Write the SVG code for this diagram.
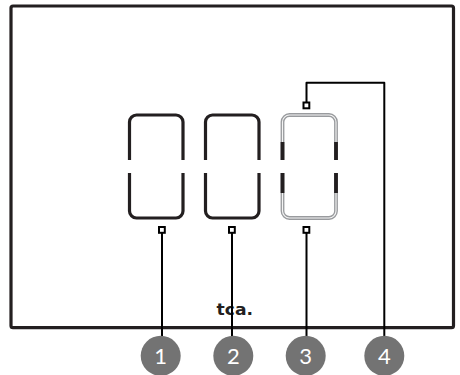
<svg xmlns="http://www.w3.org/2000/svg" width="460" height="375" viewBox="0 0 460 375">
<style>
.o{fill:none;stroke:#231f20;stroke-width:3.2;stroke-linecap:butt;stroke-linejoin:round}
.g{fill:none;stroke:#999b9e;stroke-width:3.8}
.w{fill:none;stroke:#f4f4f4;stroke-width:1.1}
.k{fill:none;stroke:#231f20;stroke-width:3.8}
.c{fill:none;stroke:#000;stroke-width:2;stroke-linejoin:round}
.s{fill:#fff;stroke:#000;stroke-width:2}
.b{fill:#737373}
.n{fill:#fff;font:400 22px Lato,sans-serif;text-anchor:middle}
</style>
<rect width="460" height="375" fill="#fff"/>
<g id="frame"><rect x="11" y="6" width="442.500" height="321.700" rx="2" class="o"/></g>
<g id="logo"><text x="216.500" y="315" textLength="36.500" lengthAdjust="spacingAndGlyphs" style="font:bold 16.500px 'DejaVu Sans',sans-serif;fill:#231f20">tca.</text></g>
<g id="connectors">
<path class="c" d="M162 233V344M232 233V344M306.500 233V344M306.500 102V82.700H384.300V344"/>
</g>
<g id="door1"><path class="o" d="M129.500 160V122a7 7 0 0 1 7-7H176a7 7 0 0 1 7 7V160M129.500 173V211a7 7 0 0 0 7 7H176a7 7 0 0 0 7-7V173"/></g>
<g id="door2"><path class="o" d="M205.500 160V122a7 7 0 0 1 7-7H252a7 7 0 0 1 7 7V160M205.500 173V211a7 7 0 0 0 7 7H252a7 7 0 0 0 7-7V173"/></g>
<g id="door3">
<path class="g" d="M282.500 160V122a7 7 0 0 1 7-7H329a7 7 0 0 1 7 7V160M282.500 173V211a7 7 0 0 0 7 7H329a7 7 0 0 0 7-7V173"/>
<path class="w" d="M282.500 142V122a7 7 0 0 1 7-7H329a7 7 0 0 1 7 7V142M282.500 193V211a7 7 0 0 0 7 7H329a7 7 0 0 0 7-7V193"/>
<path class="k" d="M282.500 142V160M336 142V160M282.500 173V193M336 173V193"/>
</g>
<g id="sensors">
<rect class="s" x="159" y="227" width="5.800" height="5.800"/>
<rect class="s" x="229" y="227" width="5.800" height="5.800"/>
<rect class="s" x="303.500" y="227" width="5.800" height="5.800"/>
<rect class="s" x="303.500" y="102.500" width="5.800" height="5.800"/>
</g>
<g id="callout1"><circle class="b" cx="160.700" cy="355.800" r="20"/><text class="n" x="160.700" y="364">1</text></g>
<g id="callout2"><circle class="b" cx="233.300" cy="355.800" r="20"/><text class="n" x="233.300" y="364">2</text></g>
<g id="callout3"><circle class="b" cx="305.700" cy="355.800" r="20"/><text class="n" x="305.700" y="364">3</text></g>
<g id="callout4"><circle class="b" cx="384.300" cy="355.800" r="20"/><text class="n" x="384.300" y="364">4</text></g>
</svg>
